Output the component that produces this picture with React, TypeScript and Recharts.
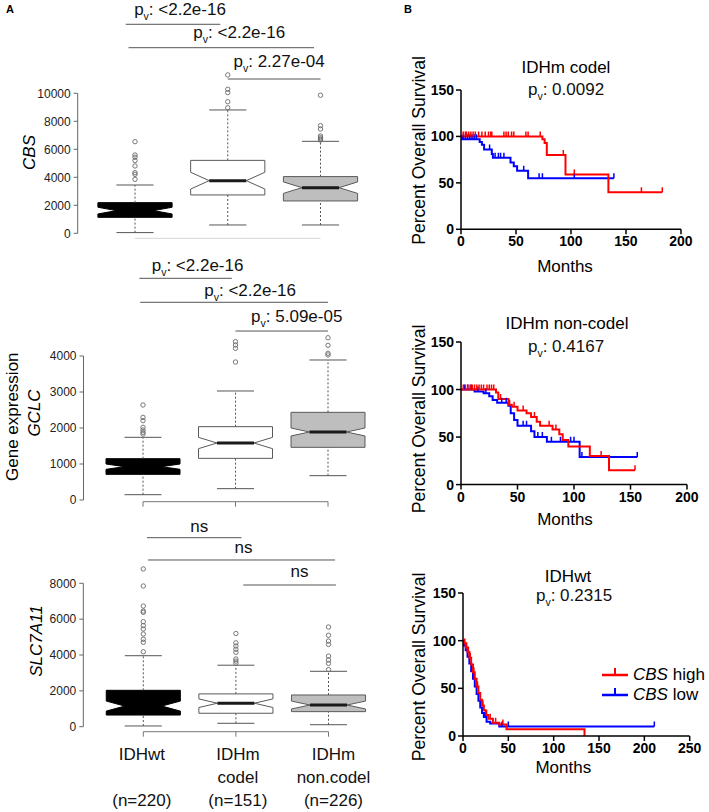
import React from 'react';
import {
  ComposedChart,
  Line,
  Scatter,
  XAxis,
  YAxis,
  ReferenceLine,
  ReferenceArea,
  Legend,
} from 'recharts';

const FONT = '"Liberation Sans", Arial, Helvetica, sans-serif';
const RED = '#ff0000';
const BLUE = '#0000ff';

// ---------- panel A : expression by subtype ----------
const groupLine1 = ['IDHwt', 'IDHm', 'IDHm'];
const groupLine2 = ['', 'codel', 'non.codel'];
const groupCounts = ['(n=220)', '(n=151)', '(n=226)'];

const cbsTicks = [0, 2000, 4000, 6000, 8000, 10000];
const cbsLow = [50, 595, 595];
const cbsQ1 = [1140, 2740, 2310];
const cbsMedian = [1620, 3760, 3260];
const cbsQ3 = [2190, 5210, 4050];
const cbsHigh = [3450, 8810, 6570];
const cbsNotch = [240, 600, 410];
const cbsOutliers = [
  [3855, 4210, 4330, 4810, 5190, 5430, 5595, 6545],
  [8970, 9400, 10050, 10290, 11310],
  [6660, 6740, 6830, 6950, 7450, 7690, 9860],
];
const cbsBrackets = [
  { from: 0.9, to: 1.92, y: 14929, text: '<2.2e-16' },
  { from: 0.93, to: 2.93, y: 13257, text: '<2.2e-16' },
  { from: 2.0, to: 3.0, y: 11021, text: '2.27e-04' },
];

const gclcTicks = [0, 1000, 2000, 3000, 4000];
const gclcLow = [148, 315, 676];
const gclcQ1 = [713, 1157, 1463];
const gclcMedian = [926, 1583, 1889];
const gclcQ3 = [1148, 2037, 2435];
const gclcHigh = [1741, 3028, 3889];
const gclcNotch = [74, 157, 111];
const gclcOutliers = [
  [1833, 1880, 1944, 2019, 2204, 2296, 2639],
  [3833, 4213, 4306, 4398],
  [4028, 4074, 4296, 4508],
];
const gclcBrackets = [
  { from: 0.96, to: 1.96, y: 6158, text: '<2.2e-16' },
  { from: 0.97, to: 3.0, y: 5492, text: '<2.2e-16' },
  { from: 2.0, to: 3.0, y: 4694, text: '5.09e-05' },
];

const slcTicks = [0, 2000, 4000, 6000, 8000];
const slcLow = [40, 190, 110];
const slcQ1 = [650, 750, 840];
const slcMedian = [1150, 1310, 1210];
const slcQ3 = [2030, 1830, 1770];
const slcHigh = [3960, 3430, 3090];
const slcNotch = [280, 240, 220];
const slcOutliers = [
  [4180, 4710, 4880, 5170, 5450, 5640, 5860, 6380, 6450, 6730, 7850, 8800],
  [3540, 3660, 3780, 4150, 4320, 4500, 4680, 5200],
  [3180, 3530, 3720, 3940, 4590, 4780, 5100, 5560],
];
const slcBrackets = [
  { from: 1.04, to: 2.06, y: 10544, text: 'ns' },
  { from: 1.05, to: 3.07, y: 9300, text: 'ns' },
  { from: 2.08, to: 3.08, y: 7905, text: 'ns' },
];

// ---------- panel B : Kaplan-Meier, [months, percent] ----------
const codelHigh = [[0, 100], [74, 97], [76, 93], [78, 80], [95, 59], [134, 40], [183, 40]];
const codelHighCens = [
  [2, 100], [4, 100], [5, 100], [7, 100], [9, 100], [11, 100], [13, 100], [16, 100], [19, 100],
  [22, 100], [25, 100], [27, 100], [28, 100], [39, 100], [41, 100], [43, 100], [46, 100],
  [48, 100], [59, 100], [61, 100], [72, 100], [93, 80], [103, 59], [164, 40], [183, 40],
];
const codelLow = [
  [0, 100], [1, 97], [17, 94], [19, 91], [21, 86], [28, 81], [29, 77], [45, 72], [48, 68],
  [51, 63], [61, 55], [139, 55],
];
const codelLowCens = [
  [2, 97], [4, 97], [6, 97], [8, 97], [10, 97], [12, 97], [14, 97], [26, 86], [31, 77], [34, 77],
  [36, 77], [39, 77], [57, 63], [71, 55], [74, 55], [103, 55], [139, 55],
];

const nonCodelHigh = [
  [0, 100], [31, 97], [33, 90], [42, 84], [45, 82], [50, 78], [58, 75], [62, 71], [67, 66],
  [70, 62], [81, 58], [87, 53], [90, 47], [95, 40], [114, 30], [131, 15], [154, 15],
];
const nonCodelHighCens = [
  [2, 100], [4, 100], [6, 100], [8, 100], [10, 100], [12, 100], [14, 100], [16, 100], [18, 100],
  [20, 100], [23, 100], [25, 100], [27, 100], [29, 100], [35, 90], [43, 84], [47, 82], [55, 78],
  [65, 71], [78, 62], [84, 58], [124, 30], [154, 15],
];
const nonCodelLow = [
  [0, 100], [12, 98], [20, 96], [25, 93], [28, 89], [32, 86], [42, 83], [44, 75], [47, 68],
  [50, 62], [62, 56], [65, 50], [76, 45], [105, 29], [156, 29],
];
const nonCodelLowCens = [
  [3, 100], [6, 100], [9, 100], [15, 98], [22, 96], [36, 86], [40, 86], [55, 62], [58, 62],
  [68, 50], [72, 50], [80, 45], [88, 45], [97, 45], [100, 45], [107, 29], [156, 29],
];

const wtHigh = [
  [0, 100], [1, 97], [3, 93], [5, 88], [7, 82], [9, 75], [11, 67], [13, 60], [15, 52], [17, 45],
  [19, 38], [21, 32], [23, 27], [25, 22], [28, 18], [33, 14], [40, 12], [48, 7], [134, 0],
];
const wtHighCens = [
  [2, 97], [4, 93], [6, 88], [8, 82], [12, 67], [16, 52], [22, 32], [26, 22], [30, 18], [36, 14],
  [44, 12],
];
const wtLow = [
  [0, 100], [1, 95], [3, 90], [5, 83], [7, 76], [9, 68], [11, 60], [13, 52], [15, 44], [17, 37],
  [19, 30], [21, 24], [23, 20], [26, 15], [30, 13], [40, 10], [211, 10],
];
const wtLowCens = [[24, 20], [43, 10], [50, 10], [211, 10]];

const survivalTicks = [0, 50, 100, 150];

// ---------- layout / style ----------
const Y_AXIS_W = 50;
const BOX_HW = 0.4;
const CAP_HW = 0.2;
const boxFill = ['#000000', '#ffffff', '#bebebe'];
const boxStroke = ['#000000', '#5a5a5a', '#5a5a5a'];
const medianStroke = ['#000000', '#1a1a1a', '#1a1a1a'];
const groupLabelDx = [-1.5, 2, 5];

const layoutCbs = {
  top: 0, height: 250, width: 368, axisX: 77.7, cat1X: 135, cat3X: 320.5,
  zeroY: 233.3, maxTickY: 93.3, plotTop: 0, plotBottom: 238.3, plotRight: 365,
  baseColor: '#d4d4d4', tickMarks: false, labels: false,
  labelOffsets: [[7, -9.3], [18, -9.7], [5, -12.3]],
};
const layoutGclc = {
  top: 250, height: 260, width: 370, axisX: 83.5, cat1X: 143, cat3X: 328,
  zeroY: 500, maxTickY: 356, plotTop: 255, plotBottom: 501.7, plotRight: 368,
  baseColor: '#777', tickMarks: true, labels: false,
  labelOffsets: [[12, -7.6], [16, -6.6], [15, -9.3]],
};
const layoutSlc = {
  top: 510, height: 302, width: 370, axisX: 83.3, cat1X: 143.3, cat3X: 328.5,
  zeroY: 726.7, maxTickY: 583.3, plotTop: 515, plotBottom: 731.7, plotRight: 368,
  baseColor: '#777', tickMarks: true, labels: true,
  labelOffsets: [[5, -6], [2, -7], [10, -7.7]],
};

function PText({ x, y, value, size = 17 }: any) {
  return (
    <text x={x} y={y} textAnchor="middle" fontSize={size} fill="#111" fontFamily={FONT}>
      p
      <tspan dy={5} fontSize={size * 0.62}>v</tspan>
      <tspan dy={-5}>: {value}</tspan>
    </text>
  );
}

function makeNotchBox(i: number, q1: number, med: number, q3: number, notch: number) {
  return (p: any) => {
    const top = Math.min(p.y, p.y + p.height);
    const h = Math.abs(p.height);
    if (!h) return <g />;
    const pix = (v: number) => top + (h * (q3 - v)) / (q3 - q1);
    const xl = p.x;
    const xr = p.x + p.width;
    const il = p.x + p.width / 4;
    const ir = p.x + (p.width * 3) / 4;
    const bot = top + h;
    const nHi = pix(med + notch);
    const nLo = pix(med - notch);
    const m = pix(med);
    const pts = [
      [xl, bot], [xl, nLo], [il, m], [xl, nHi], [xl, top],
      [xr, top], [xr, nHi], [ir, m], [xr, nLo], [xr, bot],
    ]
      .map((q) => q.join(','))
      .join(' ');
    return (
      <g>
        <polygon points={pts} fill={boxFill[i]} stroke={boxStroke[i]} strokeWidth={1} />
        <line x1={il} x2={ir} y1={m} y2={m} stroke={medianStroke[i]} strokeWidth={3} />
      </g>
    );
  };
}

const outlierShape = (p: any) => (
  <circle cx={p.cx} cy={p.cy} r={2.2} fill="none" stroke="#6a6a6a" strokeWidth={0.9} />
);

const renderGroupTick = (p: any) => {
  const i = Math.round(p.payload.value) - 1;
  const cx = p.x + groupLabelDx[i];
  const common = { textAnchor: 'middle' as const, fontSize: 17, fill: '#111', fontFamily: FONT };
  return (
    <g>
      <text x={cx} y={p.y + 21} {...common}>{groupLine1[i]}</text>
      {groupLine2[i] && <text x={cx} y={p.y + 44.5} {...common}>{groupLine2[i]}</text>}
      <text x={cx} y={p.y + 67} {...common}>{groupCounts[i]}</text>
    </g>
  );
};
const renderNoTick = () => <g />;

function BoxPanel({ low, q1, median, q3, high, notch, outliers, brackets, ticks, L }: any) {
  const pxPerCat = (L.cat3X - L.cat1X) / 2;
  const xMin = 1 - (L.cat1X - L.axisX) / pxPerCat;
  const xMax = 1 + (L.plotRight - L.cat1X) / pxPerCat;
  const maxTick = ticks[ticks.length - 1];
  const pxPerUnit = (L.zeroY - L.maxTickY) / maxTick;
  const yMax = (L.zeroY - L.plotTop) / pxPerUnit;
  const yMin = -(L.plotBottom - L.zeroY) / pxPerUnit;
  const points = outliers.flatMap((vals: number[], i: number) => vals.map((v) => ({ x: i + 1, y: v })));
  const cats = [0, 1, 2];

  return (
    <div style={{ position: 'absolute', left: 0, top: L.top }}>
      <ComposedChart
        width={L.width}
        height={L.height}
        margin={{ top: L.plotTop - L.top, right: L.width - L.plotRight, bottom: 0, left: L.axisX - Y_AXIS_W }}
      >
        <XAxis
          type="number"
          dataKey="x"
          domain={[xMin, xMax]}
          allowDataOverflow
          ticks={[1, 2, 3]}
          interval={0}
          axisLine={false}
          tickLine={L.tickMarks ? { stroke: '#777' } : false}
          tickSize={5}
          tickMargin={2}
          height={L.top + L.height - L.plotBottom}
          tick={L.labels ? renderGroupTick : renderNoTick}
        />
        <YAxis
          type="number"
          dataKey="y"
          domain={[yMin, yMax]}
          allowDataOverflow
          ticks={ticks}
          interval={0}
          width={Y_AXIS_W}
          axisLine={false}
          tickLine={{ stroke: '#666' }}
          tickSize={4}
          tickMargin={3}
          tick={{ fontSize: 12, fill: '#222', fontFamily: FONT }}
        />
        <ReferenceLine
          segment={[{ x: xMin, y: 0 }, { x: xMin, y: maxTick }]}
          stroke="#666"
          ifOverflow="visible"
        />
        <ReferenceLine
          segment={[{ x: 1, y: yMin }, { x: 3, y: yMin }]}
          stroke={L.baseColor}
          ifOverflow="visible"
        />
        {cats.map((i) => (
          <ReferenceLine
            key={`wu${i}`}
            segment={[{ x: i + 1, y: q3[i] }, { x: i + 1, y: high[i] }]}
            stroke="#555"
            strokeDasharray="2 2"
            ifOverflow="visible"
          />
        ))}
        {cats.map((i) => (
          <ReferenceLine
            key={`wl${i}`}
            segment={[{ x: i + 1, y: low[i] }, { x: i + 1, y: q1[i] }]}
            stroke="#555"
            strokeDasharray="2 2"
            ifOverflow="visible"
          />
        ))}
        {cats.map((i) => (
          <ReferenceLine
            key={`ch${i}`}
            segment={[{ x: i + 1 - CAP_HW, y: high[i] }, { x: i + 1 + CAP_HW, y: high[i] }]}
            stroke="#555"
            ifOverflow="visible"
          />
        ))}
        {cats.map((i) => (
          <ReferenceLine
            key={`cl${i}`}
            segment={[{ x: i + 1 - CAP_HW, y: low[i] }, { x: i + 1 + CAP_HW, y: low[i] }]}
            stroke="#555"
            ifOverflow="visible"
          />
        ))}
        {cats.map((i) => (
          <ReferenceArea
            key={`box${i}`}
            x1={i + 1 - BOX_HW}
            x2={i + 1 + BOX_HW}
            y1={q1[i]}
            y2={q3[i]}
            ifOverflow="visible"
            shape={makeNotchBox(i, q1[i], median[i], q3[i], notch[i])}
          />
        ))}
        <Scatter data={points} dataKey="y" shape={outlierShape} isAnimationActive={false} />
        {brackets.map((b: any, k: number) => (
          <ReferenceLine
            key={`br${k}`}
            segment={[{ x: b.from, y: b.y }, { x: b.to, y: b.y }]}
            stroke="#555"
            ifOverflow="visible"
            label={(lp: any) => {
              const vb = lp.viewBox || {};
              const cx = vb.x + (vb.width || 0) / 2 + L.labelOffsets[k][0];
              const by = vb.y + L.labelOffsets[k][1];
              return b.text === 'ns' ? (
                <text x={cx} y={by} textAnchor="middle" fontSize={17} fill="#111" fontFamily={FONT}>
                  ns
                </text>
              ) : (
                <PText x={cx} y={by} value={b.text} />
              );
            }}
          />
        ))}
      </ComposedChart>
    </div>
  );
}

// ---------- KM panels ----------
const KM_Y_W = 45;
const KM_MT = 10;
const KM_MR = 14;
const KM_XH = 28;

const toPts = (arr: number[][]) => arr.map(([t, s]) => ({ t, s }));

const censorShape = (color: string) => (p: any) => (
  <line x1={p.cx} x2={p.cx} y1={p.cy - 5} y2={p.cy} stroke={color} strokeWidth={1.5} />
);

const kmAxisStyle = { stroke: '#000', strokeWidth: 1.5 };
const kmTick = { fontSize: 14, fontWeight: 'bold', fill: '#000', fontFamily: FONT };

const legendItems = [
  { color: RED, gene: 'CBS', level: ' high' },
  { color: BLUE, gene: 'CBS', level: ' low' },
];

const renderLegend = () => (
  <svg width={110} height={45}>
    {legendItems.map((it, k) => (
      <g key={it.level}>
        <line x1={4} x2={30} y1={13 + k * 20} y2={13 + k * 20} stroke={it.color} strokeWidth={2.5} />
        <line x1={17} x2={17} y1={6 + k * 20} y2={13 + k * 20} stroke={it.color} strokeWidth={2} />
        <text x={35} y={17.5 + k * 20} fontSize={17} fill="#000" fontFamily={FONT}>
          <tspan fontStyle="italic">{it.gene}</tspan>
          {it.level}
        </text>
      </g>
    ))}
  </svg>
);

function KMPanel({ high, low, highCens, lowCens, xMax, xTicks, P, legend }: any) {
  const left = P.plotLeft - KM_Y_W;
  const top = P.plotTop - KM_MT;
  const width = P.plotRight + KM_MR - left;
  const height = P.plotBottom + KM_XH - top;
  return (
    <div style={{ position: 'absolute', left, top }}>
      <ComposedChart width={width} height={height} margin={{ top: KM_MT, right: KM_MR, bottom: 0, left: 0 }}>
        <XAxis
          type="number"
          dataKey="t"
          domain={[0, xMax]}
          allowDataOverflow
          ticks={xTicks}
          interval={0}
          height={KM_XH}
          axisLine={kmAxisStyle}
          tickLine={kmAxisStyle}
          tickSize={5}
          tickMargin={2}
          tick={kmTick}
        />
        <YAxis
          type="number"
          dataKey="s"
          domain={[0, 150]}
          allowDataOverflow
          ticks={survivalTicks}
          interval={0}
          width={KM_Y_W}
          axisLine={kmAxisStyle}
          tickLine={kmAxisStyle}
          tickSize={5}
          tickMargin={2}
          tick={kmTick}
        />
        <Line data={toPts(low)} dataKey="s" type="stepAfter" stroke={BLUE} strokeWidth={2} dot={false} isAnimationActive={false} />
        <Line data={toPts(high)} dataKey="s" type="stepAfter" stroke={RED} strokeWidth={2} dot={false} isAnimationActive={false} />
        <Scatter data={toPts(lowCens)} dataKey="s" shape={censorShape(BLUE)} isAnimationActive={false} />
        <Scatter data={toPts(highCens)} dataKey="s" shape={censorShape(RED)} isAnimationActive={false} />
        {legend && (
          <Legend
            layout="vertical"
            align="center"
            verticalAlign="middle"
            content={renderLegend}
            wrapperStyle={{ left: 598 - left, top: 662 - top, width: 110, height: 45 }}
          />
        )}
      </ComposedChart>
    </div>
  );
}

const kmTitles = ['IDHm codel', 'IDHm non-codel', 'IDHwt'];
const kmPValues = ['0.0092', '0.4167', '0.2315'];

export default function App() {
  return (
    <div
      style={{
        position: 'absolute', left: 0, top: 0, width: 709, height: 812,
        background: '#fff', overflow: 'hidden', fontFamily: FONT,
      }}
    >
      <BoxPanel low={cbsLow} q1={cbsQ1} median={cbsMedian} q3={cbsQ3} high={cbsHigh} notch={cbsNotch}
        outliers={cbsOutliers} brackets={cbsBrackets} ticks={cbsTicks} L={layoutCbs} />
      <BoxPanel low={gclcLow} q1={gclcQ1} median={gclcMedian} q3={gclcQ3} high={gclcHigh} notch={gclcNotch}
        outliers={gclcOutliers} brackets={gclcBrackets} ticks={gclcTicks} L={layoutGclc} />
      <BoxPanel low={slcLow} q1={slcQ1} median={slcMedian} q3={slcQ3} high={slcHigh} notch={slcNotch}
        outliers={slcOutliers} brackets={slcBrackets} ticks={slcTicks} L={layoutSlc} />

      <KMPanel high={codelHigh} low={codelLow} highCens={codelHighCens} lowCens={codelLowCens}
        xMax={200} xTicks={[0, 50, 100, 150, 200]}
        P={{ plotLeft: 460.7, plotRight: 680.7, plotTop: 90, plotBottom: 229.3 }} />
      <KMPanel high={nonCodelHigh} low={nonCodelLow} highCens={nonCodelHighCens} lowCens={nonCodelLowCens}
        xMax={200} xTicks={[0, 50, 100, 150, 200]}
        P={{ plotLeft: 460.7, plotRight: 686.7, plotTop: 341.7, plotBottom: 484.3 }} />
      <KMPanel high={wtHigh} low={wtLow} highCens={wtHighCens} lowCens={wtLowCens}
        xMax={250} xTicks={[0, 50, 100, 150, 200, 250]} legend
        P={{ plotLeft: 463.3, plotRight: 690, plotTop: 592.7, plotBottom: 735.7 }} />

      <svg width={709} height={812} style={{ position: 'absolute', left: 0, top: 0, pointerEvents: 'none' }}>
        <g fontFamily={FONT} fill="#000">
          <text x={6} y={13} fontSize={11} fontWeight="bold">A</text>
          <text x={404} y={13} fontSize={11} fontWeight="bold">B</text>

          <text transform="translate(35,152.5) rotate(-90)" textAnchor="middle" fontSize={17} fontStyle="italic">CBS</text>
          <text transform="translate(18,416.7) rotate(-90)" textAnchor="middle" fontSize={17}>Gene expression</text>
          <text transform="translate(40,413) rotate(-90)" textAnchor="middle" fontSize={17} fontStyle="italic">GCLC</text>
          <text transform="translate(41.5,641) rotate(-90)" textAnchor="middle" fontSize={17} fontStyle="italic">SLC7A11</text>

          <text transform="translate(425,150.5) rotate(-90)" textAnchor="middle" fontSize={17.6}>Percent Overall Survival</text>
          <text transform="translate(425,419) rotate(-90)" textAnchor="middle" fontSize={17.6}>Percent Overall Survival</text>
          <text transform="translate(425,667) rotate(-90)" textAnchor="middle" fontSize={17.6}>Percent Overall Survival</text>

          <text x={566} y={73.3} textAnchor="middle" fontSize={17}>{kmTitles[0]}</text>
          <text x={567} y={329} textAnchor="middle" fontSize={17}>{kmTitles[1]}</text>
          <text x={568} y={581.7} textAnchor="middle" fontSize={17}>{kmTitles[2]}</text>

          <text x={565} y={271.7} textAnchor="middle" fontSize={17}>Months</text>
          <text x={565} y={525} textAnchor="middle" fontSize={17}>Months</text>
          <text x={563.3} y={773.3} textAnchor="middle" fontSize={17}>Months</text>
        </g>
        <PText x={566} y={95} value={kmPValues[0]} />
        <PText x={566} y={351.7} value={kmPValues[1]} />
        <PText x={574} y={601} value={kmPValues[2]} />
      </svg>
    </div>
  );
}
